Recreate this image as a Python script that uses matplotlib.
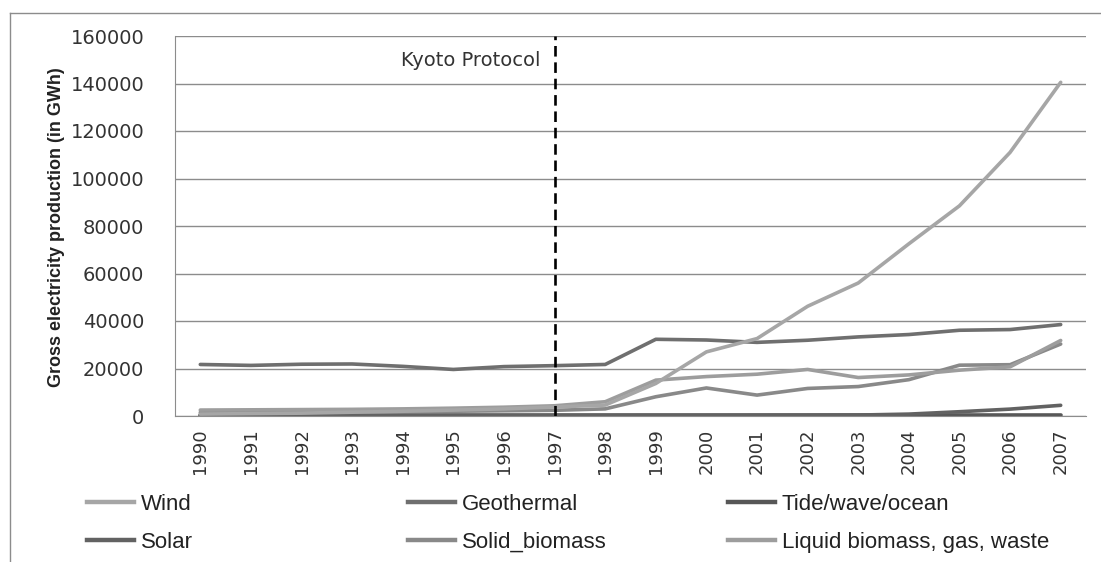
import matplotlib
matplotlib.use("Agg")
import matplotlib.pyplot as plt
from matplotlib.lines import Line2D
from matplotlib import font_manager

years = [str(y) for y in range(1990, 2008)]

wind = [800, 1000, 1200, 1600, 2000, 2500, 3000, 3800, 4600, 13700,
        27000, 32600, 46200, 56000, 72500, 88500, 111000, 140500]
geothermal = [21700, 21300, 21800, 21900, 20900, 19600, 20800, 21200, 21700, 32300,
              32000, 31000, 31900, 33300, 34300, 36100, 36400, 38500]
tide = [500, 500, 500, 500, 500, 500, 500, 500, 500, 500,
        500, 500, 500, 500, 500, 500, 500, 500]
solar = [100, 100, 100, 100, 100, 100, 100, 150, 150, 200,
         200, 250, 300, 400, 800, 1800, 2900, 4500]
solid_biomass = [1500, 1600, 1700, 1800, 1900, 2000, 2200, 2400, 3000, 8100,
                 11800, 8800, 11600, 12400, 15300, 21400, 21600, 30300]
liquid_biomass = [2500, 2600, 2700, 2800, 3000, 3300, 3700, 4300, 6000, 15100,
                  16600, 17600, 19600, 16200, 17300, 19300, 20700, 31800]

labels = ["Wind", "Geothermal", "Tide/wave/ocean",
          "Solar", "Solid_biomass", "Liquid biomass, gas, waste"]
series = [wind, geothermal, tide, solar, solid_biomass, liquid_biomass]
colors = ["#a6a6a6", "#6f6f6f", "#575757", "#626262", "#898989", "#9d9d9d"]

installed = {f.name for f in font_manager.fontManager.ttflist}
narrow = "Liberation Sans Narrow" if "Liberation Sans Narrow" in installed else "Liberation Sans"

fig = plt.figure(figsize=(11.01, 5.62), dpi=100)
ax = fig.add_axes([175 / 1101, 1 - 416 / 562, 911 / 1101, 380 / 562])

x = list(range(len(years)))
# draw order: small ones first, wind on top
for i in [2, 3, 4, 5, 1, 0]:
    ax.plot(x, series[i], color=colors[i], lw=2.6, solid_capstyle="round")

# Kyoto marker
ax.axvline(7, color="black", lw=1.9, ls=(0, (4, 2.2)))
ax.text(6.72, 149500, "Kyoto Protocol", ha="right", va="center",
        fontsize=14, color="#333333")

ax.set_xlim(-0.5, 17.5)
ax.set_ylim(0, 160000)
ax.set_yticks(range(0, 160001, 20000))
ax.set_xticks(x)
ax.set_xticklabels(years, rotation=90, fontsize=13, color="#333333")
ax.tick_params(axis="y", labelsize=14, colors="#333333", length=0, pad=22)
ax.tick_params(axis="x", length=0, pad=9)
ax.yaxis.grid(True, color="#8c8c8c", lw=1)
ax.set_axisbelow(True)
for s in ["top", "right"]:
    ax.spines[s].set_visible(False)
ax.spines["left"].set_color("#8c8c8c")
ax.spines["bottom"].set_color("#8c8c8c")

fig.text(57 / 1101, 1 - 227 / 562, "Gross electricity production (in GWh)",
         rotation=90, ha="center", va="center", fontsize=13,
         fontweight="bold", family=narrow, color="#222222")

# outer chart border
fig.add_artist(Line2D([10 / 1101, 1.0], [1 - 13 / 562] * 2,
                      transform=fig.transFigure, color="#8c8c8c", lw=1))
fig.add_artist(Line2D([10 / 1101] * 2, [0.0, 1 - 13 / 562],
                      transform=fig.transFigure, color="#8c8c8c", lw=1))

# legend, three columns of two rows
col_x = [87, 408, 728]
for c in range(3):
    idx = [c, c + 3]
    handles = [Line2D([], [], color=colors[i], lw=3.2) for i in idx]
    fig.legend(handles, [labels[i] for i in idx], loc="upper left",
               bbox_to_anchor=(col_x[c] / 1101, 1 - 494 / 562),
               frameon=False, handlelength=2.1, handletextpad=0.33,
               labelspacing=0.75, borderaxespad=0, borderpad=0,
               prop={"family": narrow, "size": 16}, labelcolor="#222222")

fig.savefig("out.png", dpi=100)
